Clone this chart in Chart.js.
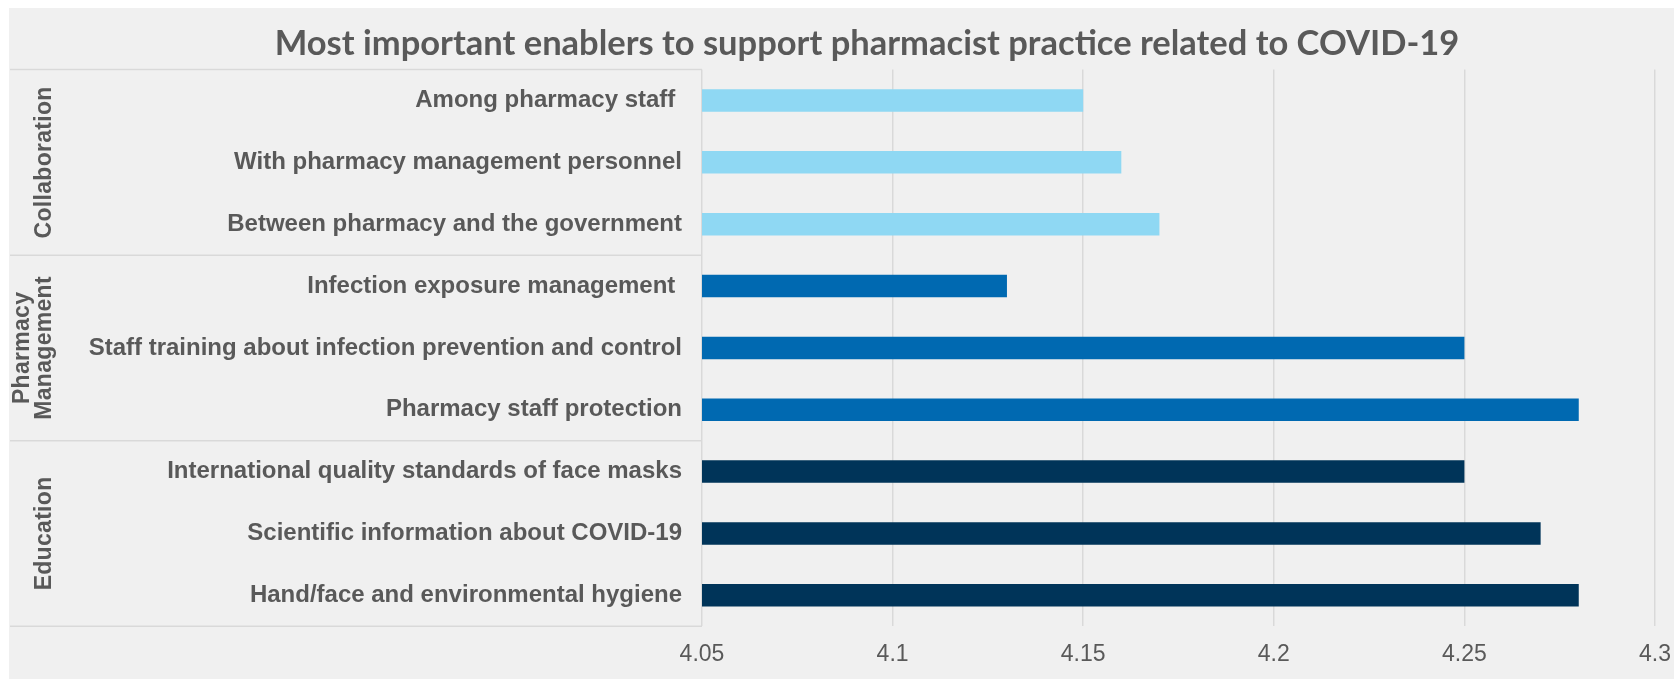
<!DOCTYPE html>
<html><head><meta charset="utf-8">
<script src="https://cdn.jsdelivr.net/npm/chart.js@4"></script>
<style>html,body{margin:0;padding:0;background:#fff;overflow:hidden}</style>
</head><body>
<canvas id="c" width="1674" height="679"></canvas>
<script>
// ---- data ----
const categories = [
  "Among pharmacy staff ",
  "With pharmacy management personnel",
  "Between pharmacy and the government",
  "Infection exposure management ",
  "Staff training about infection prevention and control",
  "Pharmacy staff protection",
  "International quality standards of face masks",
  "Scientific information about COVID-19",
  "Hand/face and environmental hygiene"
];
const values = [4.15, 4.16, 4.17, 4.13, 4.25, 4.28, 4.25, 4.27, 4.28];
const groupNames = [["Collaboration"], ["Pharmacy", "Management"], ["Education"]];
const groupSizes = [3, 3, 3];
const groupColors = ["#8fd8f3", "#0069b1", "#003459"];
const xTicks = [4.05, 4.1, 4.15, 4.2, 4.25, 4.3];
const titleText = "Most important enablers to support pharmacist practice related to COVID-19";

// ---- styles ----
const TEXT = "#595959";
const LINE = "#d9d9d9";
const barColors = [];
groupSizes.forEach((n, g) => { for (let i = 0; i < n; i++) barColors.push(groupColors[g]); });

const decor = {
  id: "decor",
  beforeDraw(chart) {
    const ctx = chart.ctx, W = chart.width, H = chart.height;
    ctx.save();
    ctx.fillStyle = "#ffffff"; ctx.fillRect(0, 0, W, H);
    ctx.fillStyle = "#f0f0f0"; ctx.fillRect(9, 8, W - 9, H - 8);
    ctx.restore();
  },
  afterDraw(chart) {
    const ctx = chart.ctx, ca = chart.chartArea, ys = chart.scales.y;
    ctx.save();
    // group box lines
    const bounds = [ca.top];
    let idx = 0;
    groupSizes.forEach((n, g) => {
      idx += n;
      if (idx < categories.length) bounds.push((ys.getPixelForTick(idx - 1) + ys.getPixelForTick(idx)) / 2);
      else bounds.push(ca.bottom);
    });
    ctx.strokeStyle = LINE; ctx.lineWidth = 1.5;
    bounds.forEach(b => { ctx.beginPath(); ctx.moveTo(10, b); ctx.lineTo(ca.left, b); ctx.stroke(); });
    // group labels
    ctx.fillStyle = TEXT;
    ctx.font = "bold 23px 'Liberation Sans', Arial, sans-serif";
    if ('letterSpacing' in ctx) ctx.letterSpacing = "0.3px";
    ctx.textAlign = "center"; ctx.textBaseline = "alphabetic";
    groupNames.forEach((lines, g) => {
      const cy = (bounds[g] + bounds[g + 1]) / 2;
      const lastBase = 51, gap = 22;
      lines.forEach((t, k) => {
        const bx = lastBase - (lines.length - 1 - k) * gap;
        ctx.save(); ctx.translate(bx, cy); ctx.rotate(-Math.PI / 2);
        ctx.fillText(t, 0, 0); ctx.restore();
      });
    });
    if ('letterSpacing' in ctx) ctx.letterSpacing = "0px";
    // title
    ctx.font = "bold 34.5px Lato, 'Open Sans', sans-serif";
    ctx.textAlign = "center"; ctx.textBaseline = "middle";
    ctx.fillText(titleText, 867, 43.5);
    ctx.restore();
  }
};

new Chart(document.getElementById("c"), {
  type: "bar",
  data: {
    labels: categories,
    datasets: [{ data: values, backgroundColor: barColors, borderWidth: 0,
                 categoryPercentage: 1, barPercentage: 0.364 }]
  },
  options: {
    indexAxis: "y",
    responsive: false,
    animation: false,
    devicePixelRatio: 1,
    layout: { padding: { left: 10, top: 69.6, right: 19, bottom: 0 } },
    plugins: { legend: { display: false }, tooltip: { enabled: false }, title: { display: false } },
    scales: {
      x: {
        min: xTicks[0], max: xTicks[xTicks.length - 1],
        afterBuildTicks: s => { s.ticks = xTicks.map(v => ({ value: v })); },
        afterFit: s => { s.height = 52.8; },
        ticks: { color: TEXT, padding: 0, font: { family: "'Liberation Sans', Arial, sans-serif", size: 23 },
                 callback: v => String(v), maxRotation: 0, autoSkip: false },
        grid: { color: LINE, lineWidth: 1.5, drawTicks: true, tickLength: 15, tickColor: "rgba(0,0,0,0)" },
        border: { display: false }
      },
      y: {
        afterFit: s => { s.width = 692; },
        ticks: { color: TEXT, padding: 20, autoSkip: false,
                 font: { family: "'Liberation Sans', Arial, sans-serif", size: 24, weight: "bold" } },
        grid: { display: false, drawTicks: false },
        border: { display: false }
      }
    }
  },
  plugins: [decor]
});
</script>
</body></html>
